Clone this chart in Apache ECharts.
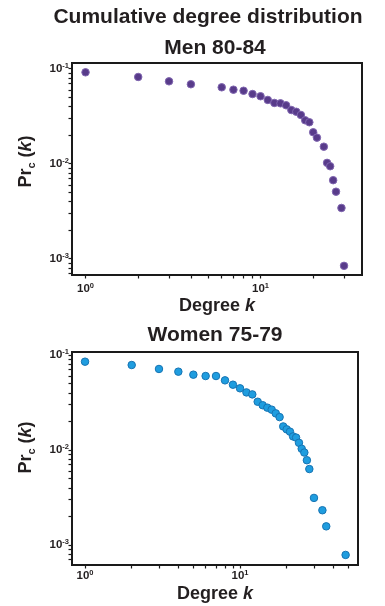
<!DOCTYPE html>
<html><head><meta charset="utf-8">
<script src="https://cdn.jsdelivr.net/npm/echarts@6/dist/echarts.min.js"></script>
<style>html,body{margin:0;padding:0;background:#fff}#c{width:385px;height:606px}</style>
</head><body><div id="c"></div>
<script>
// ---- data ----
const menK = [1,2,3,4,6,7,8,9,10,11,12,13,14,15,16,17,18,19,20,21,23,24,25,26,27,29,30];
const menPr = [0.0916,0.0818,0.0736,0.0686,0.0637,0.0601,0.0586,0.0541,0.0513,0.0469,0.0436,0.0432,0.0412,0.0367,0.0352,0.0326,0.0286,0.0273,0.0214,0.0188,0.0151,0.0102,0.0094,0.0067,0.00507,0.00342,0.00084];
const womenK = [1,2,3,4,5,6,7,8,9,10,11,12,13,14,15,16,17,18,19,20,21,22,23,24,25,26,27,28,30,34,36,48];
const womenPr = [0.0851,0.0785,0.0713,0.0668,0.0621,0.0601,0.0601,0.0541,0.0487,0.0446,0.0404,0.0385,0.0322,0.0296,0.0279,0.0266,0.0243,0.0222,0.0177,0.0165,0.0156,0.0139,0.0135,0.0119,0.0103,0.0094,0.0078,0.0063,0.00313,0.00232,0.00157,0.000785];
const xMajorTicks = [1, 10];
const yMajorTicks = [0.1, 0.01, 0.001];
const xMinorTicks = [2,3,4,5,6,7,8,9,20,30,40,50];
const yMinorTicks = [0.0006,0.0007,0.0008,0.0009,0.002,0.003,0.004,0.005,0.006,0.007,0.008,0.009,0.02,0.03,0.04,0.05,0.06,0.07,0.08,0.09];
const mainTitle = 'Cumulative degree distribution';
const panelTitles = ['Men 80-84', 'Women 75-79'];

// ---- layout / style ----
// Axes are drawn in log10 space (value axes), so every mark is placed by the axis scale.
const FONT = '"Liberation Sans", Arial, Helvetica, sans-serif';
const INK = '#231f20';
const lg = Math.log10;
const panels = [
  { grid: {left: 72, top: 63, width: 290, height: 212}, xMin: 0.837, xMax: 38.0, yMin: 0.000673, yMax: 0.1148,
    k: menK, pr: menPr, color: '#583b8a', border: '#8066b0', xMargin: 7, xGap: 20, yShift: 15, titleTop: 38, titleX: 215 },
  { grid: {left: 72, top: 352, width: 286, height: 213}, xMin: 0.824, xMax: 57.7, yMin: 0.000615, yMax: 0.1076,
    k: womenK, pr: womenPr, color: '#1f9ddf', border: '#1774b3', xMargin: 4, xGap: 18, yShift: 22, titleTop: 325, titleX: 215 }
];
const tickRich = {
  b: {fontFamily: FONT, fontWeight: 'bold', fontSize: 11.5, color: INK, lineHeight: 14},
  s: {fontFamily: FONT, fontWeight: 'bold', fontSize: 7.5, color: INK, lineHeight: 8, verticalAlign: 'top'}
};
const nameRich = {
  a: {fontFamily: FONT, fontWeight: 'bold', fontSize: 18, color: INK, lineHeight: 22},
  i: {fontFamily: FONT, fontWeight: 'bold', fontStyle: 'italic', fontSize: 18, color: INK, lineHeight: 22},
  sub: {fontFamily: FONT, fontWeight: 'bold', fontSize: 11, color: INK, lineHeight: 22, verticalAlign: 'bottom'}
};
const xNameRich = '{a|Degree }{i|k}';
const yNameRich = '{a|Pr}{sub|c}{a| (}{i|k}{a|)}';
const textBase = {fontFamily: FONT, fontWeight: 'bold', fontSize: 21, color: INK};
const expFmt = v => '{b|10}{s|' + Math.round(v) + '}';
const TICK = '#1a1a1a';

const grids = [], xAxes = [], yAxes = [], series = [], titles = [];
titles.push({text: mainTitle, left: 208, top: 7, padding: 0, textAlign: 'center', textStyle: textBase});
panels.forEach((p, gi) => {
  grids.push(Object.assign({show: true, borderColor: '#1a1a1a', borderWidth: 2, backgroundColor: 'transparent', outerBoundsMode: 'none', containLabel: false}, p.grid));
  titles.push({text: panelTitles[gi], left: p.titleX, top: p.titleTop, padding: 0, textAlign: 'center', textStyle: textBase});
  const common = {gridIndex: gi, type: 'value', splitLine: {show: false}, minorTick: {show: false},
    axisLine: {show: true, onZero: false, lineStyle: {color: '#1a1a1a', width: 2}}};
  xAxes.push(Object.assign({}, common, {
    position: 'bottom', min: lg(p.xMin), max: lg(p.xMax),
    axisTick: {show: true, inside: false, length: 3.5, customValues: xMajorTicks.concat(xMinorTicks).map(lg), lineStyle: {color: TICK, width: 1.2}},
    axisLabel: {show: true, customValues: xMajorTicks.map(lg), formatter: expFmt, rich: tickRich, margin: p.xMargin},
    name: xNameRich, nameLocation: 'middle', nameGap: p.xGap, nameTextStyle: {rich: nameRich}
  }));
  yAxes.push(Object.assign({}, common, {
    position: 'left', min: lg(p.yMin), max: lg(p.yMax),
    axisTick: {show: true, inside: false, length: 3.5, customValues: yMajorTicks.concat(yMinorTicks).map(lg), lineStyle: {color: TICK, width: 1.2}},
    axisLabel: {show: true, customValues: yMajorTicks.map(lg), formatter: expFmt, rich: tickRich, margin: 3},
    name: yNameRich, nameLocation: 'middle', nameGap: 35, nameRotate: 90,
    nameTextStyle: {rich: nameRich, padding: [0, 0, 0, p.yShift]}
  }));
  series.push({type: 'scatter', xAxisIndex: gi, yAxisIndex: gi, symbol: 'circle', symbolSize: 7.5,
    data: p.k.map((k, i) => [lg(k), lg(p.pr[i])]),
    itemStyle: {color: p.color, borderColor: p.border, borderWidth: 1, opacity: 1},
    emphasis: {disabled: true}, animation: false});
});

const chart = echarts.init(document.getElementById('c'), null, {renderer: 'canvas'});
chart.setOption({
  backgroundColor: '#ffffff', animation: false,
  title: titles, grid: grids, xAxis: xAxes, yAxis: yAxes, series: series,
  tooltip: {show: false}
});
</script></body></html>
